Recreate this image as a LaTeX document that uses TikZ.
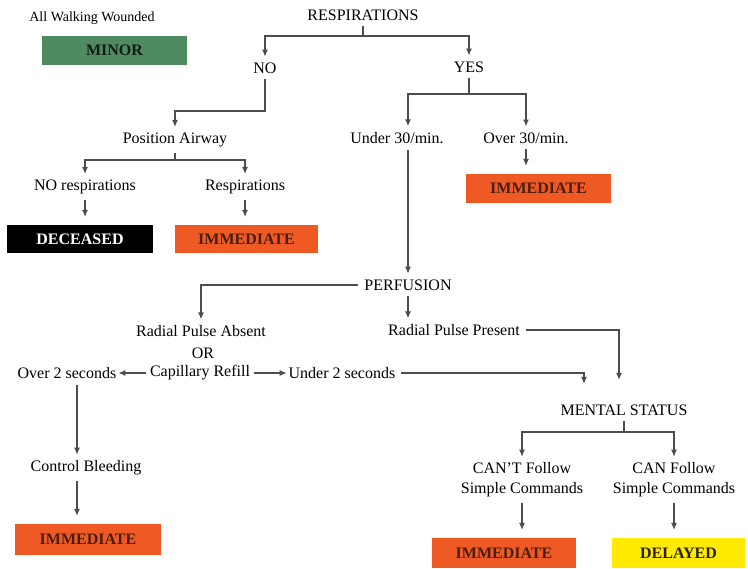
\documentclass[tikz,border=0pt]{standalone}
\usepackage{fontspec}
\setmainfont{Liberation Serif}
\usetikzlibrary{arrows.meta}
\definecolor{minorgreen}{HTML}{4F8A60}
\definecolor{immorange}{HTML}{EF5A24}
\definecolor{delyellow}{HTML}{FFEA00}
\definecolor{boxtext}{HTML}{4A1E0E}
\tikzset{
  font=\fontsize{16}{20}\selectfont,
  >={Latex[length=7pt,width=6pt]},
  lab/.style={inner sep=1pt, outer sep=5pt, align=center},
  tag/.style={inner sep=0pt, outer sep=8pt, minimum height=29pt, font=\fontsize{16}{20}\selectfont\bfseries, text=boxtext},
  link/.style={draw=black!70, line width=1.3pt},
  arr/.style={link, ->},
  tight/.style={shorten <=-2pt, shorten >=-4pt},
}
\begin{document}
\begin{tikzpicture}[x=1pt,y=-1pt]
\useasboundingbox (0,0) rectangle (748,569);
% legend
\node[lab, font=\fontsize{14}{16}\selectfont] (walk) at (92,18) {All Walking Wounded};
\node[tag, fill=minorgreen, text=black!80!minorgreen, minimum width=145pt] (minor) at (114.5,50.5) {MINOR};
% respirations
\node[lab] (resp) at (363,15) {RESPIRATIONS};
\coordinate (rsplit) at (363,36);
\node[lab] (no) at (265,68) {NO};
\node[lab] (yes) at (469,67) {YES};
\draw[link] (resp) -- (rsplit);
\draw[arr] (rsplit) -| (no);
\draw[arr] (rsplit) -| (yes);
% no breathing: position airway
\coordinate (nbend) at (265,111);
\node[lab] (airway) at (175,140) {Position Airway};
\draw[arr] (no) -- (nbend) -| (airway);
\coordinate (asplit) at (175,160);
\node[lab] (norsp) at (85,187) {NO respirations};
\node[lab] (rsp) at (245,187) {Respirations};
\draw[link] (airway) -- (asplit);
\draw[arr] (asplit) -| (norsp);
\draw[arr] (asplit) -| (rsp);
\node[tag, fill=black, text=white, minimum width=146pt, minimum height=28pt] (dead) at (80,239) {DECEASED};
\node[tag, fill=immorange, minimum width=143pt, minimum height=28pt] (imm1) at (246.5,239) {IMMEDIATE};
\draw[arr] (norsp.south) -- (norsp.south |- dead.north);
\draw[arr] (rsp.south) -- (rsp.south |- imm1.north);
% breathing: rate
\node[lab] (perf) at (408,285) {PERFUSION};
\coordinate (ysplit) at (469,94);
\node[lab] (under30) at (397,138) {Under 30/min.};
\node[lab] (over30) at (526,138) {Over 30/min.};
\node[tag, fill=immorange, minimum width=145pt] (imm2) at (538.5,188.5) {IMMEDIATE};
\draw[link] (yes) -- (ysplit);
\draw[arr] (ysplit) -| (perf |- under30.north);
\draw[arr] (ysplit) -| (over30);
\draw[arr] (over30) -- (over30 |- imm2.north);
\draw[arr] (perf |- under30.south) -- (perf);
% perfusion
\node[lab] (absent) at (201,331) {Radial Pulse Absent};
\node[lab] (orr) at (203,353) {OR};
\node[lab] (cap) at (200,373) {Capillary Refill};
\node[lab] (over2) at (67,373) {Over 2 seconds};
\node[lab] (under2) at (342,373) {Under 2 seconds};
\node[lab] (present) at (454,330) {Radial Pulse Present};
\draw[arr] (perf) -| (absent);
\draw[arr] (perf) -- (perf |- present.north);
\draw[arr, tight] (cap) -- (over2);
\draw[arr, tight] (cap) -- (under2);
\node[lab] (bleed) at (86,468) {Control Bleeding};
\node[tag, fill=immorange, minimum width=146pt, minimum height=31pt] (imm4) at (88,539.5) {IMMEDIATE};
\draw[arr] ([xshift=10pt]over2.south) -- ([xshift=10pt]over2.south |- bleed.north);
\draw[arr] ([xshift=-9pt]bleed.south) -- ([xshift=-9pt]bleed.south |- imm4.north);
% mental status
\coordinate (m1) at (584,384);
\coordinate (m2) at (619,380);
\draw[arr] (under2) -| (m1);
\draw[arr] (present) -| (m2);
\node[lab] (mental) at (624,410) {MENTAL STATUS};
\coordinate (msplit) at (624,432);
\node[lab] (cant) at (522,480) {CAN'T Follow\\Simple Commands};
\node[lab] (can) at (674,480) {CAN Follow\\Simple Commands};
\draw[link] (mental) -- (msplit);
\draw[arr] (msplit) -| (cant);
\draw[arr] (msplit) -| (can);
\node[tag, fill=immorange, minimum width=144pt, minimum height=30pt] (imm3) at (504,553) {IMMEDIATE};
\node[tag, fill=delyellow, text=black!85!delyellow, minimum width=133pt, minimum height=30pt] (delayed) at (678.5,553) {DELAYED};
\draw[arr] (cant.south) -- (cant.south |- imm3.north);
\draw[arr] (can.south) -- (can.south |- delayed.north);
\end{tikzpicture}
\end{document}
